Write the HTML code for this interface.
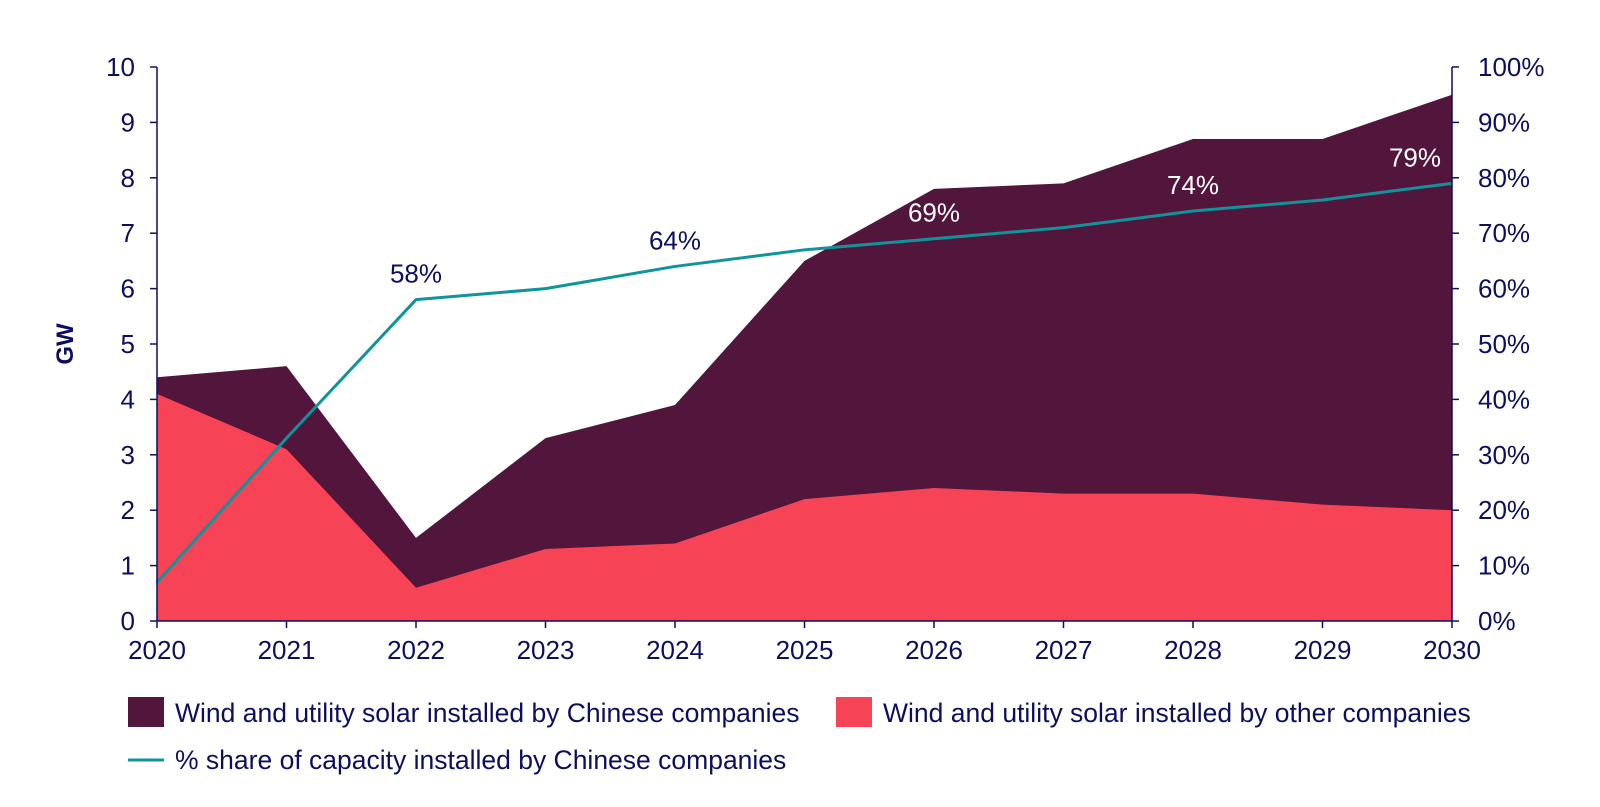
<!DOCTYPE html>
<html><head><meta charset="utf-8">
<style>
html,body{margin:0;padding:0;background:#fff;width:1600px;height:807px;overflow:hidden}
svg{display:block;font-family:"Liberation Sans",sans-serif}
</style></head>
<body>
<svg id="chart" width="1600" height="807">
  <g id="areas"></g>
  <g id="line"></g>
  <g id="axes"></g>
  <text x="73" y="344" transform="rotate(-90 73 344)" text-anchor="middle" font-size="24" font-weight="bold" fill="#0d0f5c">GW</text>
  <g>
    <rect x="128" y="697" width="36" height="30" fill="#52163c"/>
    <text x="175" y="722" font-size="26.5" fill="#0d0f5c">Wind and utility solar installed by Chinese companies</text>
    <rect x="836" y="697" width="36" height="30" fill="#f64456"/>
    <text x="883" y="722" font-size="26.5" fill="#0d0f5c">Wind and utility solar installed by other companies</text>
    <line x1="128" y1="760" x2="164" y2="760" stroke="#10939a" stroke-width="3"/>
    <text x="175" y="769" font-size="26.5" fill="#0d0f5c">% share of capacity installed by Chinese companies</text>
  </g>
</svg>
<script>
const years = [2020,2021,2022,2023,2024,2025,2026,2027,2028,2029,2030];
const totalGW = [4.4,4.6,1.5,3.3,3.9,6.5,7.8,7.9,8.7,8.7,9.5];
const otherGW = [4.1,3.1,0.6,1.3,1.4,2.2,2.4,2.3,2.3,2.1,2.0];
const sharePct = [7,33,58,60,64,67,69,71,74,76,79];
const labelYears = [2022,2024,2026,2028,2030];
const leftTicks = [0,1,2,3,4,5,6,7,8,9,10];
const rightTicks = [0,10,20,30,40,50,60,70,80,90,100];

const NS="http://www.w3.org/2000/svg";
const X0=157,X1=1452,Y0=621,Y1=67;
const FS=26;
const x=i=>X0+(X1-X0)*(years[i]-years[0])/(years[years.length-1]-years[0]);
const yL=v=>Y0-(Y0-Y1)*v/10;
const yR=v=>Y0-(Y0-Y1)*v/100;
function mk(tag,attrs,parent){const e=document.createElementNS(NS,tag);for(const k in attrs)e.setAttribute(k,attrs[k]);parent.appendChild(e);return e;}
const areas=document.getElementById('areas'),lineG=document.getElementById('line'),axes=document.getElementById('axes');

let d='M'+x(0)+','+Y0;
years.forEach((_,i)=>d+=' L'+x(i)+','+yL(totalGW[i]));
d+=' L'+x(years.length-1)+','+Y0+' Z';
const a1=mk('path',{d:d,fill:'#52163c'},areas);


d='M'+x(0)+','+Y0;
years.forEach((_,i)=>d+=' L'+x(i)+','+yL(otherGW[i]));
d+=' L'+x(years.length-1)+','+Y0+' Z';
const a2=mk('path',{d:d,fill:'#f64456'},areas);



const pts=years.map((_,i)=>x(i)+','+yR(sharePct[i])).join(' ');
const pl=mk('polyline',{points:pts,fill:'none',stroke:'#10939a','stroke-width':3,'stroke-linejoin':'round'},lineG);


years.forEach((yr,i)=>{
  if(labelYears.indexOf(yr)<0)return;
  const inside=yL(totalGW[i])<yR(sharePct[i])-35;
  const last=i===years.length-1;
  const t=mk('text',{x:x(i)-(last?37:0),y:yR(sharePct[i])-17,'text-anchor':'middle','font-size':FS,fill:inside?'#ffffff':'#0d0f5c'},lineG);
  t.textContent=sharePct[i]+'%';
  
  
});

const ax1=mk('line',{x1:X0,y1:Y1,x2:X0,y2:Y0,stroke:'#0d0f5c','stroke-width':1.5},axes);


const ax2=mk('line',{x1:X1,y1:Y1,x2:X1,y2:Y0,stroke:'#0d0f5c','stroke-width':1.5},axes);


const ax3=mk('line',{x1:X0,y1:Y0,x2:X1,y2:Y0,stroke:'#0d0f5c','stroke-width':1.5},axes);


leftTicks.forEach(v=>{
  mk('line',{x1:X0-7,y1:yL(v),x2:X0,y2:yL(v),stroke:'#0d0f5c','stroke-width':1.5},axes);
  const t=mk('text',{x:X0-22,y:yL(v)+9,'text-anchor':'end','font-size':FS,fill:'#0d0f5c'},axes);
  t.textContent=v;
  
  
});
rightTicks.forEach(v=>{
  mk('line',{x1:X1,y1:yR(v),x2:X1+7,y2:yR(v),stroke:'#0d0f5c','stroke-width':1.5},axes);
  const t=mk('text',{x:X1+26,y:yR(v)+9,'font-size':FS,fill:'#0d0f5c'},axes);
  t.textContent=v+'%';
  
  
});
years.forEach((yr,i)=>{
  mk('line',{x1:x(i),y1:Y0,x2:x(i),y2:Y0+7,stroke:'#0d0f5c','stroke-width':1.5},axes);
  const t=mk('text',{x:x(i),y:Y0+38,'text-anchor':'middle','font-size':FS,fill:'#0d0f5c'},axes);
  t.textContent=yr;
  
  
});
</script>
</body></html>
